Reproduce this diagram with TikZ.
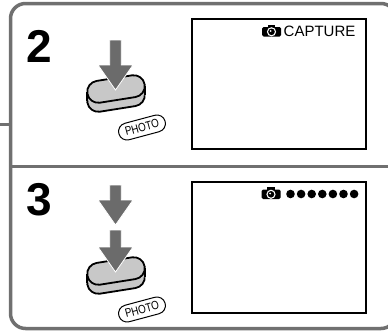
\documentclass[tikz,border=0pt]{standalone}
\usepackage{fontspec}
\setmainfont{Liberation Sans}
\usetikzlibrary{shapes.misc}
\definecolor{framegray}{HTML}{707070}
\definecolor{arrowgray}{HTML}{6B6B6B}
\definecolor{capgray}{HTML}{C8C8C8}
\newcommand\capoutline{(18,-11) -- (-18,-11) arc[start angle=270,end angle=90,radius=11]
  -- (18,11) arc[start angle=90,end angle=-90,radius=11] -- cycle}
\begin{document}
\begin{tikzpicture}[x=1pt,y=1pt,
  frameline/.style={draw=framegray, line width=3.5pt},
  stepnum/.style={anchor=base west, inner sep=0pt, font=\fontsize{46}{46}\selectfont\bfseries},
  screenbox/.style={draw=black, line width=1.1pt},
  captext/.style={anchor=base west, inner sep=0pt, font=\fontsize{15}{15}\selectfont},
  capstyle/.style={fill=capgray, draw=black, line width=1.8pt},
  photolabel/.style={rounded rectangle, minimum width=48pt, minimum height=17pt, inner sep=0pt,
    fill=white, draw=black, line width=1pt, rotate=15, font=\fontsize{12}{12}\selectfont},
  dot/.style={circle, fill=black, inner sep=0pt, minimum size=8.6pt},
  % push button seen from the side, origin at the centre of its top face
  pics/pushbutton/.style={code={
    \begin{scope}[shift={(0,-9)}, rotate=9]
      \path[capstyle] \capoutline;
    \end{scope}
    \fill[capgray] (-28.78,-2.82) -- (-28.78,-11.82) -- (28.78,-6.18) -- (28.78,2.82) -- cycle;
    \draw[line width=1.8pt] (-28.78,-2.82) -- (-28.78,-11.82);
    \draw[line width=1.8pt] (28.78,2.82) -- (28.78,-6.18);
    \begin{scope}[rotate=9]
      \path[capstyle] \capoutline;
    \end{scope}
  }},
  % downward pressing arrow, origin at its tip, #1 = total length
  pics/pressarrow/.style={code={
    \fill[arrowgray, draw=white, line width=0.8pt]
      (0,0) -- (-17.5,25) -- (-5.8,25) -- (-5.8,#1) -- (5.8,#1) -- (5.8,25) -- (17.5,25) -- cycle;
  }},
  % small still-camera symbol, origin at its centre
  pics/camicon/.style={code={
    \fill[black, rounded corners=1.5pt] (-9.5,-5.5) rectangle (9.5,4);
    \fill[black] (-4,3) rectangle (3.5,6.5);
    \fill[white] (0,-0.8) circle[radius=4.6];
    \fill[black] (0,-0.8) circle[radius=3.3];
    \fill[white] (-0.9,0) circle[radius=1.1];
  }}
]
\useasboundingbox (0,0) rectangle (388,-332);
\clip (0,0) rectangle (388,-332);

% outer frame and separators
\draw[frameline, rounded corners=15pt] (10.5,-3.5) rectangle (396,-328.5);
\draw[frameline] (10.5,-166.5) -- (396,-166.5);
\draw[draw=framegray, line width=3pt] (0,-124) -- (10.5,-124);

% step 2
\node[stepnum] (n2) at (26.5,-62) {2};
\pic (btn2) at (116,-89) {pushbutton};
\pic at (115.5,-90) {pressarrow=50};
\node[photolabel] (ph2) at (142,-127.5) {\scalebox{0.82}[1]{PHOTO}};
\draw[screenbox] (192,-19) rectangle (366,-149);
\pic at (271.5,-31) {camicon};
\node[captext] (cap) at (283.5,-36.5) {CAPTURE};

% step 3
\node[stepnum] (n3) at (26.5,-215) {3};
\pic (btn3) at (116,-271) {pushbutton};
\pic at (115.5,-225) {pressarrow=40};
\pic at (115.5,-272) {pressarrow=42};
\node[photolabel] (ph3) at (142,-309.5) {\scalebox{0.82}[1]{PHOTO}};
\draw[screenbox] (192,-182) rectangle (366,-313);
\pic at (271,-193.5) {camicon};
\foreach \k in {0,...,6}
  \node[dot] (d\k) at (290.5+10.6*\k,-194) {};
\end{tikzpicture}
\end{document}
